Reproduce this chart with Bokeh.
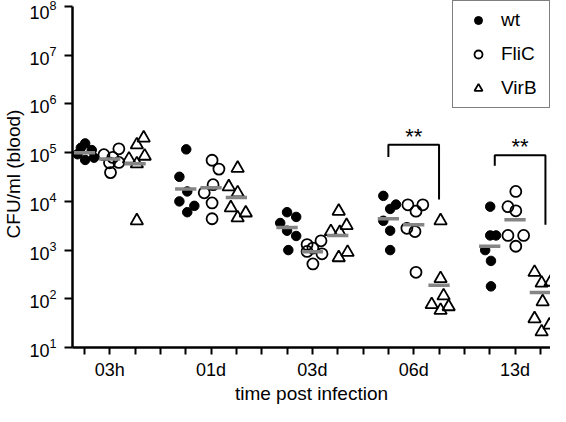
from bokeh.plotting import figure
from bokeh.models import FixedTicker, Legend, LegendItem
from bokeh.core.properties import value
from bokeh.embed import file_html
from bokeh.resources import INLINE

times = ["03h", "01d", "03d", "06d", "13d"]
strains = ["wt", "FliC", "VirB"]

# CFU/ml (blood), one list per time point
wt_vals = [
    [1.55e5, 9.3e4, 1.13e5, 7.1e4, 7.9e4, 1.26e5],
    [1.17e5, 3.2e4, 1.6e4, 1.0e4, 8.1e3, 6.0e3],
    [6.0e3, 4.8e3, 3.6e3, 2.5e3, 1.95e3, 1.0e3],
    [1.3e4, 8.6e3, 7.0e3, 4.0e3, 2.5e3, 1.0e3],
    [7.8e3, 2.0e3, 2.0e3, 1.0e3, 6.0e2, 1.8e2],
]
wt_jit = [
    [0.03, -0.27, 0.29, 0.03, 0.38, -0.14],
    [0.02, -0.25, 0.06, -0.25, 0.34, 0.06],
    [0.0, 0.36, -0.27, 0.0, 0.36, 0.05],
    [-0.2, 0.3, 0.07, -0.2, 0.07, 0.07],
    [0.02, 0.02, 0.25, -0.18, 0.05, 0.05],
]
flic_vals = [
    [9.1e4, 1.2e5, 6.2e4, 6.3e4, 3.9e4, 8.0e4],
    [7.0e4, 4.6e4, 2.2e4, 1.5e4, 9.3e3, 4.4e3],
    [1.55e3, 1.3e3, 1.1e3, 9.4e2, 8.4e2, 5.2e2],
    [8.5e3, 6.3e3, 8.5e3, 2.8e3, 2.4e3, 3.5e2],
    [1.6e4, 7.8e3, 6.4e3, 2.0e3, 2.0e3, 1.2e3],
]
flic_jit = [
    [-0.23, 0.36, -0.01, 0.36, 0.03, 0.12],
    [0.04, 0.31, 0.08, -0.27, 0.04, 0.04],
    [0.34, -0.21, 0.02, -0.21, 0.38, 0.02],
    [-0.23, 0.09, 0.36, -0.27, 0.05, 0.09],
    [0.03, -0.28, 0.03, -0.28, 0.34, 0.03],
]
virb_vals = [
    [2.0e5, 1.45e5, 8.5e4, 7.4e4, 5.9e4, 4.0e3],
    [4.8e4, 2.0e4, 1.5e4, 7.4e3, 5.8e3, 4.6e3],
    [6.3e3, 3.2e3, 2.4e3, 2.3e3, 9.0e2, 7.0e2],
    [4.0e3, 2.6e2, 1.15e2, 7.6e1, 6.9e1, 5.8e1],
    [3.5e2, 2.1e2, 2.2e2, 8.7e1, 3.9e1, 2.9e1, 2.1e1],
]
virb_jit = [
    [0.34, 0.07, 0.38, -0.24, 0.07, 0.07],
    [0.05, -0.3, 0.05, -0.22, 0.37, 0.05],
    [0.04, 0.35, -0.27, 0.08, 0.39, 0.04],
    [0.06, 0.06, 0.18, -0.29, 0.38, 0.06],
    [-0.23, 0.05, 0.4, 0.09, -0.23, 0.36, 0.05],
]
# group mean bars
wt_mean = [1.0e5, 1.8e4, 2.9e3, 4.4e3, 1.2e3]
flic_mean = [7.4e4, 1.9e4, 9.3e2, 3.3e3, 4.2e3]
virb_mean = [5.9e4, 1.2e4, 2.0e3, 1.9e2, 1.35e2]

# significance brackets: (time, left foot, top, right foot)
sig_times = ["06d", "13d"]
sig_left = [8.2e4, 5.4e4]
sig_top = [1.45e5, 8.9e4]
sig_right = [1.1e4, 3.3e3]
sig_label = ["**", "**"]

x_title = "time post infection"
y_title = "CFU/ml (blood)"

FONT = "Liberation Sans"

p = figure(width=550, height=406, y_axis_type="log",
           x_range=(-0.47, 18.4), y_range=(10, 10 ** 8.125),
           output_backend="svg", toolbar_location=None,
           min_border_left=67, min_border_right=0, min_border_top=0,
           min_border_bottom=5)
p.outline_line_color = None
p.xgrid.visible = False
p.ygrid.visible = False

def pos(g, k):
    return 4 * g + k

renders = []
series = [(wt_vals, wt_jit), (flic_vals, flic_jit), (virb_vals, virb_jit)]
styles = [
    dict(marker="circle", size=9.5, fill_color="black", line_color="black", line_width=1),
    dict(marker="circle", size=11, fill_color=None, line_color="black", line_width=1.8),
    dict(marker="triangle", size=12.5, fill_color=None, line_color="black", line_width=1.8),
]
for k, ((vals, jit), st) in enumerate(zip(series, styles)):
    xs, ys = [], []
    for g in range(len(times)):
        for v, j in zip(vals[g], jit[g]):
            xs.append(pos(g, k) + j)
            ys.append(v)
    r = p.scatter(x=xs, y=ys, **st)
    renders.append(r)

for k, means in enumerate([wt_mean, flic_mean, virb_mean]):
    cx = [pos(g, k) for g in range(len(times))]
    p.segment(x0=[c - 0.42 for c in cx], x1=[c + 0.42 for c in cx],
              y0=means, y1=means, line_color="#858585", line_width=3.5)

bxs, bys, tx, ty = [], [], [], []
for t, lf, tp, rf in zip(sig_times, sig_left, sig_top, sig_right):
    g = times.index(t)
    x0 = pos(g, 0)
    x1 = pos(g, 2)
    if t == "13d":
        x0 += 0.2
        x1 += 0.2
    bxs.append([x0, x0, x1, x1])
    bys.append([lf, tp, tp, rf])
    tx.append((x0 + x1) / 2)
    ty.append(tp)
p.multi_line(xs=bxs, ys=bys, line_color="black", line_width=2)
p.text(x=tx, y=ty, text=sig_label, text_font=value(FONT), text_font_size="22px",
       text_align="center", text_baseline="bottom", y_offset=4, text_color="black")

# axes
xa = p.xaxis[0]
xa.ticker = FixedTicker(ticks=list(range(19)))
overrides = {i: "" for i in range(19)}
for g, t in enumerate(times):
    overrides[pos(g, 1)] = t
xa.major_label_overrides = overrides
xa.axis_label = x_title
ya = p.yaxis[0]
ya.ticker = FixedTicker(ticks=[10 ** e for e in range(1, 9)], minor_ticks=[])
ya.axis_label = y_title
ya.bounds = (10, 1e8)
for ax in (xa, ya):
    ax.axis_line_width = 2.5
    ax.axis_line_color = "black"
    ax.major_tick_line_width = 2
    ax.major_tick_line_color = "black"
    ax.major_tick_in = 0
    ax.major_tick_out = 8
    ax.minor_tick_out = 0
    ax.minor_tick_in = 0
    ax.major_label_text_font = FONT
    ax.major_label_text_font_size = "18px"
    ax.major_label_text_color = "black"
    ax.axis_label_text_font = FONT
    ax.axis_label_text_font_size = "19px"
    ax.axis_label_text_font_style = "normal"
    ax.axis_label_text_color = "black"
xa.major_tick_out = 7
xa.major_label_standoff = 5
xa.axis_label_standoff = 0
ya.major_label_standoff = 8
ya.axis_label_standoff = 2

legend = Legend(items=[LegendItem(label=s, renderers=[r]) for s, r in zip(strains, renders)],
                location="top_right", margin=0, padding=8, spacing=12,
                glyph_width=34, glyph_height=20, label_standoff=6, label_width=40,
                border_line_color="black", border_line_width=1.5,
                background_fill_color="white", background_fill_alpha=1,
                label_text_font=FONT, label_text_font_size="19px", label_text_color="black")
p.add_layout(legend, "center")

open("out.html", "w").write(file_html(p, INLINE))
